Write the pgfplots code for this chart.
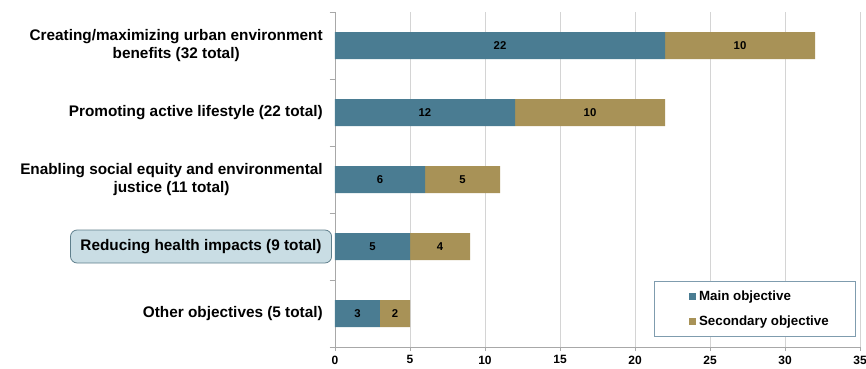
\documentclass[border=0pt]{standalone}
\usepackage{pgfplots}
\usepackage{pgfplotstable}
\pgfplotsset{compat=1.18}
\usepackage{fontspec}
\setmainfont{Liberation Sans}
\definecolor{mainc}{HTML}{4A7C92}
\definecolor{secc}{HTML}{A89257}
\definecolor{gridc}{HTML}{D4D4D4}
\definecolor{axc}{HTML}{A8A8A8}
\definecolor{legc}{HTML}{7F9CAE}
\definecolor{boxfill}{HTML}{C9DDE4}
\definecolor{boxdraw}{HTML}{5F7F8C}

\pgfplotstableread{
pos main sec
4 22 10
3 12 10
2 6 5
1 5 4
0 3 2
}\datatable

\begin{document}
\begin{tikzpicture}
\begin{axis}[
  at={(0,0)}, anchor=south west,
  scale only axis, width=393.75pt, height=251.25pt,
  xmin=0, xmax=35, ymin=-0.5, ymax=4.5,
  clip=false,
  xbar stacked, bar width=20.25pt,
  axis x line*=bottom, axis y line*=left,
  axis line style={draw=axc, line width=0.6pt},
  xtick={0,5,...,35},
  xmajorgrids, major x grid style={draw=gridc, line width=0.6pt},
  x tick style={draw=axc, line width=0.6pt},
  tick align=outside, major tick length=3pt, minor tick length=4pt,
  ytick={0,1,2,3,4},
  yticklabels={{Other objectives (5 total)},{},{Enabling social equity and environmental\\justice (11 total)},{Promoting active lifestyle (22 total)},{Creating/maximizing urban environment\\benefits (32 total)}},
  major y tick style={draw=none},
  minor ytick={-0.5,0.5,1.5,2.5,3.5,4.5},
  minor y tick style={draw=axc, line width=0.6pt},
  yticklabel style={align=center, font=\bfseries\fontsize{11.5}{13.5}\selectfont, inner xsep=0pt, xshift=-6pt},
  xticklabel style={font=\bfseries\fontsize{9}{11}\selectfont},
  /pgf/number format/assume math mode=true,
  legend style={at={(0.992,0.03)}, anchor=south east, draw=legc, line width=0.6pt,
    font=\bfseries\fontsize{10}{12}\selectfont, inner xsep=18pt, inner ysep=5pt, row sep=6pt},
  legend cell align=left,
  legend image code/.code={\path (0pt,0pt); \fill[#1] (8pt,-2.6pt) rectangle (13.25pt,2.6pt);},
  every node near coord/.append style={anchor=center, font=\bfseries\fontsize{8.5}{10}\selectfont, text=black},
]
\addplot[fill=mainc, draw=none, nodes near coords, point meta=explicit]
  table[x=main, y=pos, meta=main] {\datatable};
\addlegendentry{Main objective}
\addplot[fill=secc, draw=none, nodes near coords, point meta=explicit]
  table[x=sec, y=pos, meta=sec] {\datatable};
\addlegendentry{Secondary objective}
\node[draw=boxdraw, fill=boxfill, rounded corners=5pt, line width=0.6pt, anchor=east,
  inner xsep=7.5pt, minimum height=24.75pt, font=\bfseries\fontsize{11.5}{13.5}\selectfont]
  at (axis cs:0,1) [xshift=-2.25pt] {Reducing health impacts (9 total)};
\end{axis}
\pgfresetboundingbox
\path (-251.25pt,-15.75pt) rectangle (398.25pt,260.25pt);
\end{tikzpicture}
\end{document}
